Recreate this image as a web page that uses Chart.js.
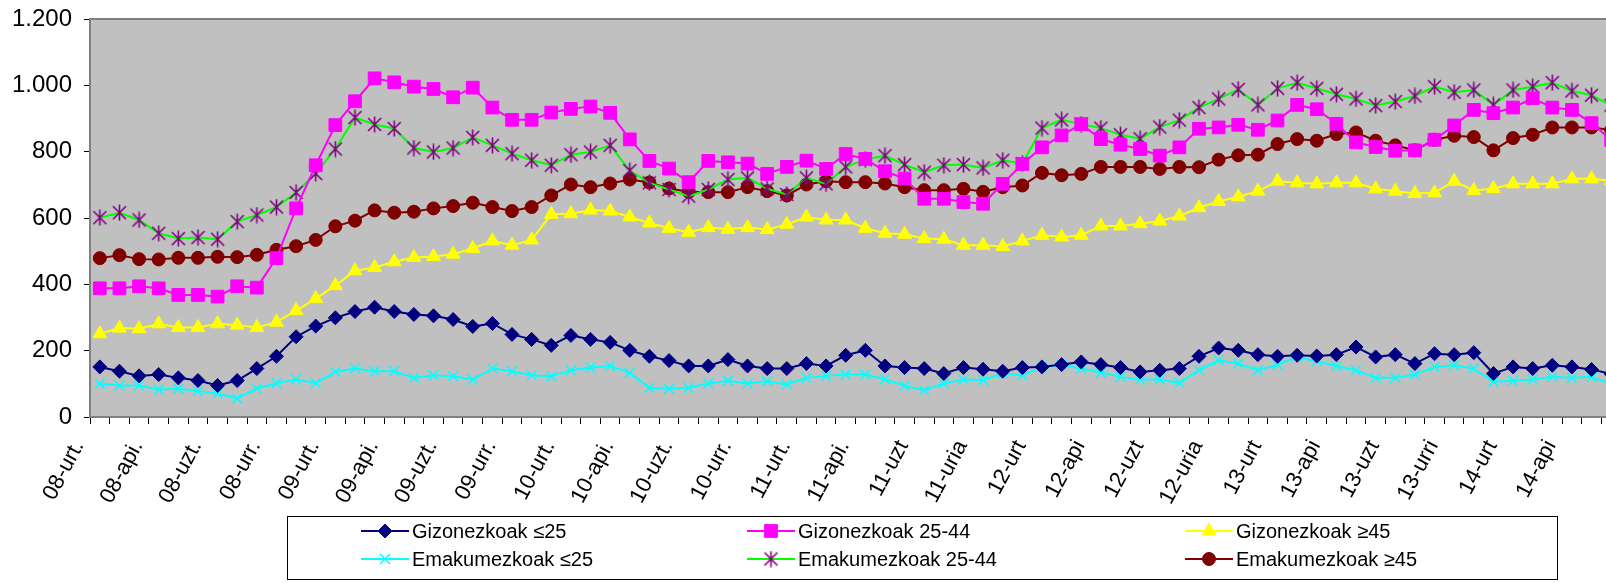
<!DOCTYPE html>
<html>
<head>
<meta charset="utf-8">
<script src="https://cdn.jsdelivr.net/npm/chart.js@4.4.0/dist/chart.umd.min.js"></script>
<style>
  html, body { margin: 0; padding: 0; background: #fff; overflow: hidden; }
  #wrap { position: relative; width: 1660px; height: 583px; }
</style>
</head>
<body>
<div id="wrap"><canvas id="chart" width="1660" height="583"></canvas></div>
<script>
// Quarterly tick labels (one every 3 months, Jan 2008 onwards)
const tickLabels = ["08-urt.", "08-api.", "08-uzt.", "08-urr.", "09-urt.", "09-api.", "09-uzt.", "09-urr.",
  "10-urt.", "10-api.", "10-uzt.", "10-urr.", "11-urt.", "11-api.", "11-uzt", "11-uria",
  "12-urt", "12-api", "12-uzt", "12-uria", "13-urt", "13-api", "13-uzt", "13-urri", "14-urt", "14-api"];

// Monthly values, Jan 2008 - Jun 2014
const gizonUnder25 = [151, 138, 124, 128, 118, 110, 95, 110, 146, 183, 242, 274, 299, 318, 331, 318,
  309, 305, 294, 273, 282, 249, 234, 216, 246, 234, 225, 201, 183, 170, 154, 154, 173, 154, 146,
  146, 161, 154, 186, 201, 154, 149, 146, 131, 149, 144, 138, 149, 151, 158, 166, 158, 149, 136, 141, 146,
  183, 208, 201, 188, 183, 186, 184, 188, 211, 181, 188, 161, 191, 188, 194, 131, 151, 146, 156, 151, 143, 130];
const gizon25to44 = [388, 388, 394, 388, 368, 368, 363, 394, 390, 479, 629, 759, 880, 952, 1021, 1009,
  996, 989, 964, 993, 933, 896, 896, 918, 929, 936, 917, 837, 772, 749, 708, 772, 768, 764, 733,
  754, 773, 748, 793, 778, 741, 719, 658, 658, 648, 643, 703, 763, 813, 849, 883, 838, 821, 808, 788, 813,
  869, 873, 881, 866, 894, 941, 928, 884, 828, 814, 803, 804, 836, 879, 926, 916, 933, 961, 933, 926, 886, 835];
const gizonOver45 = [251, 268, 266, 281, 270, 270, 281, 277, 270, 286, 321, 357, 396, 441, 451, 468,
  481, 484, 491, 508, 531, 518, 534, 611, 613, 624, 621, 603, 585, 569, 557, 571, 566, 571, 565,
  581, 603, 594, 594, 569, 554, 551, 538, 536, 518, 518, 514, 531, 548, 543, 548, 576, 576, 583, 591, 606,
  631, 650, 664, 681, 711, 706, 703, 706, 706, 688, 681, 674, 676, 711, 683, 689, 703, 703, 703, 718, 718, 712];
const emakUnder25 = [100, 95, 95, 83, 85, 78, 71, 56, 86, 102, 113, 102, 136, 146, 138, 138,
  118, 126, 123, 113, 146, 138, 126, 123, 141, 149, 154, 133, 88, 85, 88, 101, 109, 101, 108,
  98, 118, 124, 128, 128, 114, 94, 81, 101, 113, 111, 131, 126, 151, 156, 146, 134, 121, 113, 113, 103,
  141, 171, 161, 141, 158, 181, 168, 154, 141, 118, 118, 128, 151, 156, 146, 106, 109, 113, 121, 118, 121, 100];
const emak25to44 = [601, 616, 594, 554, 538, 541, 536, 589, 609, 633, 677, 734, 808, 903, 882, 870,
  811, 799, 811, 843, 819, 794, 774, 759, 791, 799, 819, 743, 706, 686, 666, 686, 716, 721, 688,
  671, 721, 703, 754, 776, 788, 761, 738, 759, 761, 751, 774, 764, 871, 896, 883, 871, 851, 839, 874, 895,
  933, 959, 988, 941, 991, 1008, 991, 973, 959, 939, 951, 968, 996, 979, 986, 941, 986, 996, 1008, 983, 970, 940];
const emakOver45 = [479, 488, 476, 475, 480, 480, 483, 482, 489, 504, 515, 534, 575, 592, 623, 616,
  619, 629, 636, 646, 633, 621, 633, 668, 701, 693, 704, 716, 707, 689, 679, 678, 678, 693, 681,
  668, 701, 711, 708, 708, 704, 693, 684, 684, 688, 679, 693, 698, 736, 729, 733, 754, 754, 754, 748, 754,
  753, 776, 789, 791, 823, 838, 833, 853, 858, 833, 819, 804, 836, 848, 844, 804, 841, 851, 873, 873, 873, 865];

// one category per month, label only on quarter starts
const months = gizonUnder25.map((v, i) => (i % 3 === 0 ? tickLabels[i / 3] : ""));

const FONT = "'Liberation Sans', Arial, sans-serif";

// Excel-like asterisk marker: an X with a vertical bar
function asteriskMarker(color) {
  const c = document.createElement("canvas");
  c.width = 17;
  c.height = 17;
  const g = c.getContext("2d");
  g.strokeStyle = color;
  g.lineWidth = 1.6;
  g.beginPath();
  g.moveTo(2, 2); g.lineTo(15, 15);
  g.moveTo(15, 2); g.lineTo(2, 15);
  g.moveTo(8.5, 0.5); g.lineTo(8.5, 16.5);
  g.stroke();
  return c;
}

function makeSeries(label, data, line, marker, style, radius, width) {
  return {
    label: label,
    data: data,
    borderColor: line,
    backgroundColor: line,
    borderWidth: 2,
    pointStyle: style,
    pointRadius: radius,
    pointBackgroundColor: marker,
    pointBorderColor: marker,
    pointBorderWidth: width,
    tension: 0,
  };
}

const datasets = [
  makeSeries("Gizonezkoak ≤25", gizonUnder25, "#000080", "#000080", "rectRot", 7, 1),
  makeSeries("Gizonezkoak 25-44", gizon25to44, "#ff00ff", "#ff00ff", "rect", 9, 1),
  makeSeries("Gizonezkoak ≥45", gizonOver45, "#ffff00", "#ffff00", "triangle", 8, 1),
  makeSeries("Emakumezkoak ≤25", emakUnder25, "#00ffff", "#00ffff", "crossRot", 7, 1.5),
  makeSeries("Emakumezkoak 25-44", emak25to44, "#00ff00", "#800080", asteriskMarker("#800080"), 8, 1.5),
  makeSeries("Emakumezkoak ≥45", emakOver45, "#800000", "#800000", "circle", 6.5, 1),
];

// gray plot area with a frame
const plotBackground = {
  id: "plotBackground",
  beforeDraw(chart) {
    const { ctx, chartArea: a } = chart;
    ctx.save();
    ctx.fillStyle = "#c0c0c0";
    ctx.fillRect(a.left, a.top, a.right - a.left, a.bottom - a.top);
    ctx.strokeStyle = "#808080";
    ctx.lineWidth = 2;
    ctx.strokeRect(a.left, a.top, a.right - a.left, a.bottom - a.top);
    ctx.restore();
  },
};

// Excel-style boxed legend, 3 columns x 2 rows
const boxLegend = {
  id: "boxLegend",
  afterDraw(chart) {
    const ctx = chart.ctx;
    const box = { x: 287, y: 516, w: 1270, h: 63 };
    const cols = [385, 771, 1209];
    const rows = [531, 559];
    ctx.save();
    ctx.fillStyle = "#fff";
    ctx.fillRect(box.x, box.y, box.w, box.h);
    ctx.strokeStyle = "#000";
    ctx.lineWidth = 1;
    ctx.strokeRect(box.x + 0.5, box.y + 0.5, box.w, box.h);
    ctx.font = "20px " + FONT;
    ctx.textBaseline = "middle";
    chart.data.datasets.forEach((ds, i) => {
      const cx = cols[i % 3];
      const cy = rows[Math.floor(i / 3)];
      ctx.strokeStyle = ds.borderColor;
      ctx.lineWidth = 2;
      ctx.beginPath();
      ctx.moveTo(cx - 24, cy);
      ctx.lineTo(cx + 24, cy);
      ctx.stroke();
      ctx.fillStyle = ds.pointBackgroundColor;
      ctx.strokeStyle = ds.pointBorderColor;
      ctx.lineWidth = ds.pointBorderWidth;
      if (Chart.helpers && Chart.helpers.drawPoint) {
        Chart.helpers.drawPoint(ctx, {
          pointStyle: ds.pointStyle,
          radius: ds.pointRadius,
          rotation: 0,
          borderWidth: ds.pointBorderWidth,
        }, cx, cy);
      }
      ctx.fillStyle = "#000";
      ctx.fillText(ds.label, cx + 27, cy + 1);
    });
    ctx.restore();
  },
};

new Chart(document.getElementById("chart"), {
  type: "line",
  data: { labels: months, datasets: datasets },
  plugins: [plotBackground, boxLegend],
  options: {
    responsive: false,
    animation: false,
    devicePixelRatio: 1,
    layout: { padding: { top: 19, right: 39, left: 0, bottom: 0 } },
    plugins: {
      legend: { display: false },
      tooltip: { enabled: false },
    },
    scales: {
      x: {
        type: "category",
        offset: true,
        grid: { offset: true, drawOnChartArea: false, drawTicks: true, tickLength: 7, color: "#000" },
        border: { color: "#808080", width: 2 },
        ticks: {
          autoSkip: false,
          minRotation: 62,
          maxRotation: 62,
          padding: 12,
          labelOffset: -21,
          color: "#000",
          font: { family: FONT, size: 22 },
        },
        afterFit(scale) {
          scale.height = 166;
          scale.paddingLeft = 0;
          scale.paddingRight = 0;
        },
      },
      y: {
        min: 0,
        max: 1200,
        grid: { drawOnChartArea: false, drawTicks: true, tickLength: 6, color: "#000" },
        border: { color: "#808080", width: 2 },
        ticks: {
          stepSize: 200,
          padding: 12,
          color: "#000",
          font: { family: FONT, size: 24 },
          callback: (v) => String(v).replace(/\B(?=(\d{3})+(?!\d))/g, "."),
        },
        afterFit(scale) {
          scale.width = 90;
          scale.paddingTop = 0;
          scale.paddingBottom = 0;
        },
      },
    },
  },
});
</script>
</body>
</html>
